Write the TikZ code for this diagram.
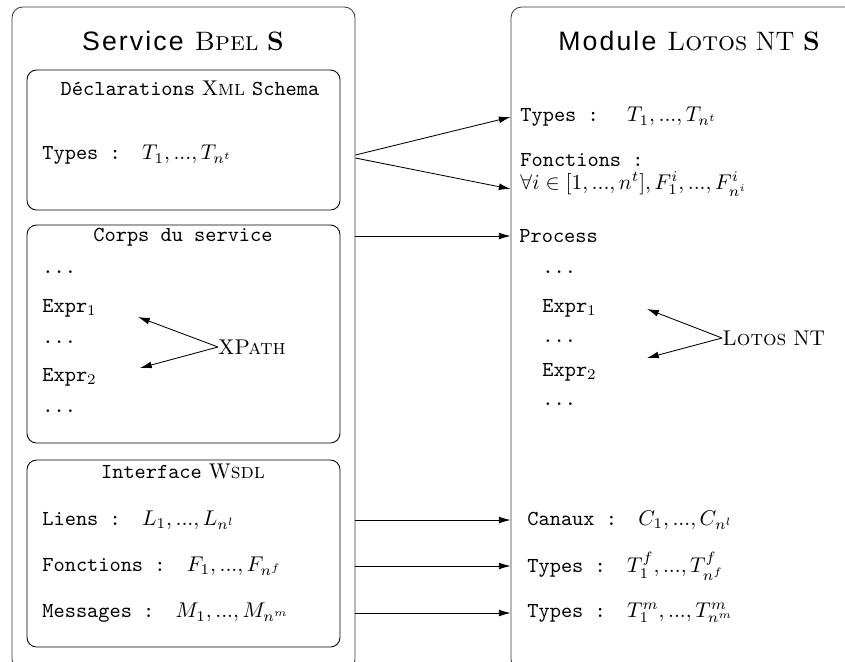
\documentclass[tikz,border=0pt]{standalone}
\usepackage{fontspec}
\usetikzlibrary{arrows.meta}
\newfontfamily\helv[LetterSpace=8]{Liberation Sans}
\tikzset{
  ext/.style={draw=black!78, rounded corners=5pt, inner sep=0pt},
  boite/.style={draw, rounded corners=4.5pt, inner sep=0pt, minimum width=313*0.469pt},
  txt/.style={anchor=west, inner sep=0pt},
  titre/.style={font=\fontsize{12.5}{14}\selectfont, inner sep=0pt},
  fl/.style={-{Latex[length=5.5pt,width=3.2pt]}}
}
\begin{document}
\begin{tikzpicture}[x=0.469pt,y=-0.469pt]
		\useasboundingbox (0,0) rectangle (845,661);
		\clip (0,0) rectangle (845,661);
		% les deux cadres
		\node[ext, minimum width=343*0.469pt, minimum height=663*0.469pt] (bpel) at (183.5,338.5) {};
		\node[ext, minimum width=359*0.469pt, minimum height=663*0.469pt] (lnt) at (690.5,338.5) {};
		\node[titre] (tbpel) at (183,41) {{\helv Service} \textsc{Bpel} \textbf{S}};
		\node[titre] (tlnt) at (689,41) {{\helv Module} \textsc{Lotos} NT \textbf{S}};
		% cote BPEL
		\node[boite, minimum height=140*0.469pt] (xsd) at (183.5,140) {};
		\node[boite, minimum height=218*0.469pt] (corps) at (183.5,334) {};
		\node[boite, minimum height=187*0.469pt] (wsdl) at (183.5,553.5) {};
		\node[inner sep=0pt] (txsd) at (190,88) {\texttt{Déclarations} X\textsc{ml} \texttt{Schema}};
		\node[inner sep=0pt] (tcorps) at (183,237) {\texttt{Corps du service}};
		\node[inner sep=0pt] (twsdl) at (183,471) {\texttt{Interface} W\textsc{sdl}};
		\node[txt] (typesL) at (42,155) {\texttt{Types :}\quad$T_1, ..., T_{n^t}$};
		\node[txt] (pA) at (42,272) {\texttt{...}};
		\node[txt] (expA) at (42,308) {\texttt{Expr}$_1$};
		\node[txt] (pB) at (42,342) {\texttt{...}};
		\node[txt] (expB) at (42,377) {\texttt{Expr}$_2$};
		\node[txt] (pC) at (42,411) {\texttt{...}};
		\node[txt] (xpath) at (218,347) {X\textsc{Path}};
		\coordinate (xa) at (138,317);
		\coordinate (xb) at (140,368);
		\draw[fl] (xpath.west) -- (xa);
		\draw[fl] (xpath.west) -- (xb);
		\node[txt] (liens) at (42,520) {\texttt{Liens :}\quad$L_1, ..., L_{n^l}$};
		\node[txt] (fonctL) at (42,566) {\texttt{Fonctions :}\quad$F_1, ..., F_{n^f}$};
		\node[txt] (msg) at (42,613) {\texttt{Messages :}\quad$M_1, ..., M_{n^m}$};
		% cote LOTOS NT
		\node[txt] (typesR) at (520,117) {\texttt{Types :}\quad\ $T_1, ..., T_{n^t}$};
		\node[txt, align=left] (fonctR) at (520,175) {\texttt{Fonctions :}\\[-1.5pt]$\forall i \in [1, ..., n^t], F^i_1, ..., F^i_{n^i}$};
		\node[txt] (proc) at (519,236) {\texttt{Process}};
		\node[txt] (qA) at (542,272) {\texttt{...}};
		\node[txt] (eA) at (542,308) {\texttt{Expr}$_1$};
		\node[txt] (qB) at (542,341) {\texttt{...}};
		\node[txt] (eB) at (542,372) {\texttt{Expr}$_2$};
		\node[txt] (qC) at (542,404) {\texttt{...}};
		\node[txt] (lotos) at (722,338) {\textsc{Lotos} NT};
		\coordinate (la) at (647,309);
		\coordinate (lb) at (647,358);
		\draw[fl] (lotos.west) -- (la);
		\draw[fl] (lotos.west) -- (lb);
		\node[txt] (canaux) at (527,520) {\texttt{Canaux :}\quad$C_1, ..., C_{n^l}$};
		\node[txt] (typesF) at (527,566) {\texttt{Types :}\quad$T^f_1, ..., T^f_{n^f}$};
		\node[txt] (typesM) at (527,613) {\texttt{Types :}\quad$T^m_1, ..., T^m_{n^m}$};
		% traduction
		\draw[fl] (bpel.east |- typesL) -- (lnt.west |- typesR);
		\draw[fl] ([yshift=-3*0.469pt]bpel.east |- typesL) -- (lnt.west |- 0,189);
		\draw[fl] (bpel.east |- proc) -- (lnt.west |- proc);
		\draw[fl] (bpel.east |- liens) -- (lnt.west |- liens);
		\draw[fl] (bpel.east |- fonctL) -- (lnt.west |- fonctL);
		\draw[fl] (bpel.east |- msg) -- (lnt.west |- msg);
	\end{tikzpicture}
\end{document}
